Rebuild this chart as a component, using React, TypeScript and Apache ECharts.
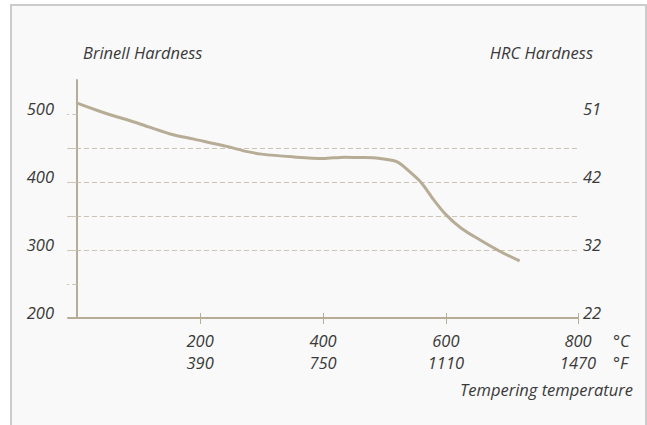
import React, { useEffect, useRef } from "react";
import * as echarts from "echarts";

const temperatureC = [0, 40, 100, 150, 190, 245, 275, 300, 350, 400, 435, 460, 490, 520, 540, 560, 580, 600, 625, 655, 690, 720];
const brinell = [516, 503, 486, 471, 463, 452, 445, 441, 437, 434.5, 436.5, 436, 435, 430, 416, 399, 374, 352, 332, 315, 297, 284];

const xTickValues = [200, 400, 600, 815];
const celsiusLabels = ["200", "400", "600", "800"];
const fahrenheitLabels = ["390", "750", "1110", "1470"];

const brinellTicks = [200, 300, 400, 500];
const brinellLabels = ["200", "300", "400", "500"];
const hrcLabels = ["22", "32", "42", "51"];
const gridTicks = [250, 300, 350, 400, 450, 500];

const FONT = '"Open Sans", sans-serif';
const FS = 16.5;
const FW = 400;
const TEXT = "#3a3a3a";
const LINE = "#b7ac95";
const DASH = "#cdc5b3";

export default function App() {
  const ref = useRef<HTMLDivElement>(null);
  useEffect(() => {
    if (!ref.current) return;
    const chart = echarts.init(ref.current, null, { renderer: "svg" });
    const labelBase = {
      fontFamily: FONT,
      fontStyle: "italic" as const,
      fontWeight: FW,
      fontSize: FS,
      color: TEXT,
    };
    const txt = (text: string, x: number, y: number, align: string) => ({
      type: "text",
      x,
      y,
      style: { text, fill: TEXT, fontFamily: FONT, fontStyle: "italic", fontWeight: FW, fontSize: FS, align, verticalAlign: "middle" },
    });
    chart.setOption({
      animation: false,
      backgroundColor: "transparent",
      grid: { left: 68, right: 69, top: 80, bottom: 107, containLabel: false },
      xAxis: [
        {
          type: "value",
          min: -15,
          max: 815,
          position: "bottom",
          axisLine: { show: true, lineStyle: { color: LINE, width: 2 } },
          axisTick: {
            show: true,
            length: 6,
            customValues: xTickValues,
            lineStyle: { color: LINE, width: 1 },
          },
          axisLabel: {
            show: true,
            margin: 11,
            customValues: xTickValues,
            formatter: (v: number) => {
              const i = xTickValues.indexOf(v);
              if (i < 0) return "";
              return `{a|${celsiusLabels[i]}}\n{a|${fahrenheitLabels[i]}}`;
            },
            rich: {
              a: { ...labelBase, lineHeight: 22 },
            },
          },
          splitLine: { show: false },
        },
        {
          type: "value",
          min: -15,
          max: 815,
          position: "bottom",
          axisLine: { show: false },
          axisTick: {
            show: true,
            inside: true,
            length: 5,
            customValues: xTickValues,
            lineStyle: { color: LINE, width: 1 },
          },
          axisLabel: { show: false },
          splitLine: { show: false },
        },
      ],
      yAxis: [
        {
          type: "value",
          min: 200,
          max: 550,
          interval: 50,
          position: "left",
          axisLine: { show: true, lineStyle: { color: LINE, width: 2 } },
          axisTick: {
            show: true,
            length: 10,
            customValues: gridTicks,
            lineStyle: { color: DASH, width: 1, type: [5, 3] },
          },
          axisLabel: {
            ...labelBase,
            margin: 14,
            customValues: brinellTicks,
            verticalAlign: "bottom",
            lineHeight: 12,
            formatter: (v: number) => {
              const i = brinellTicks.indexOf(v);
              return i < 0 ? "" : brinellLabels[i];
            },
          },
          splitLine: {
            show: true,
            showMinLine: false,
            showMaxLine: false,
            lineStyle: { color: DASH, width: 1, type: [5, 3] },
          },
        },
        {
          type: "value",
          min: 200,
          max: 550,
          interval: 50,
          position: "right",
          axisLine: { show: false },
          axisTick: { show: false },
          axisLabel: {
            ...labelBase,
            margin: 5,
            customValues: brinellTicks,
            verticalAlign: "bottom",
            lineHeight: 12,
            formatter: (v: number) => {
              const i = brinellTicks.indexOf(v);
              return i < 0 ? "" : hrcLabels[i];
            },
          },
          splitLine: { show: false },
        },
      ],
      graphic: [
        txt("Brinell Hardness", 83, 52, "left"),
        txt("HRC Hardness", 593, 52, "right"),
        txt("°C", 613, 340, "left"),
        txt("°F", 613, 362, "left"),
        txt("Tempering temperature", 633, 389, "right"),
      ],
      series: [
        {
          type: "line",
          xAxisIndex: 0,
          yAxisIndex: 0,
          data: temperatureC.map((t, i) => [t, brinell[i]]),
          showSymbol: false,
          smooth: 0.3,
          lineStyle: { color: LINE, width: 3 },
          silent: true,
        },
      ],
    });
    return () => chart.dispose();
  }, []);

  return (
    <div style={{ position: "fixed", left: 0, top: 0, width: 647, height: 425, background: "#ffffff", overflow: "hidden" }}>
      <div
        style={{
          position: "absolute",
          left: 10,
          top: 4,
          width: 633,
          height: 440,
          background: "#f9f9f9",
          border: "2px solid #cccccc",
        }}
      />
      <div ref={ref} style={{ position: "absolute", left: 0, top: 0, width: 647, height: 425 }} />
    </div>
  );
}
